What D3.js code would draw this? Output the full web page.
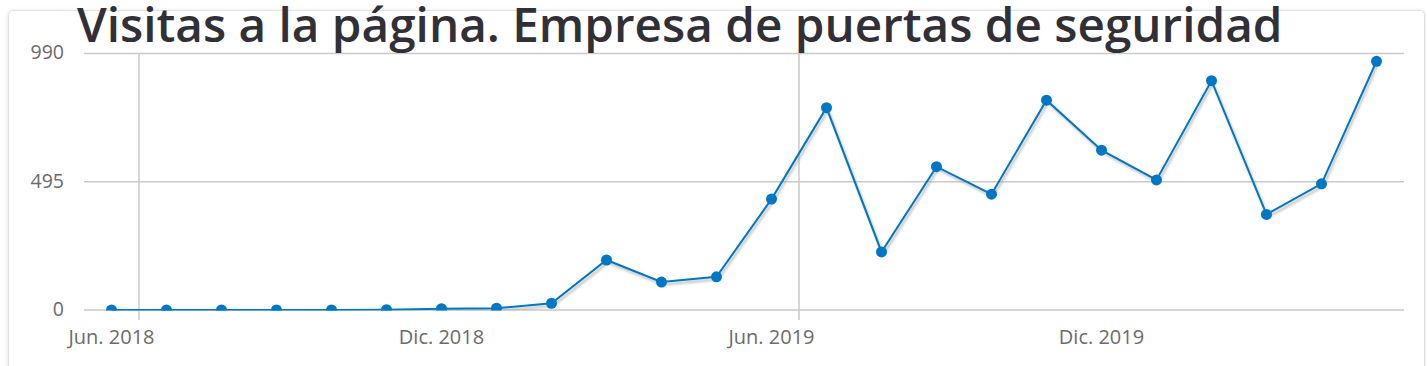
<!DOCTYPE html>
<html><head><meta charset="utf-8">
<script src="https://cdn.jsdelivr.net/npm/d3@7"></script>
<style>
html,body{margin:0;padding:0;background:#fff;}
svg{display:block;font-family:"Open Sans",sans-serif;}
</style></head>
<body>
<svg id="c" width="1427" height="366"></svg>
<script>
const title = "Visitas a la página. Empresa de puertas de seguridad";
const categories = ["Jun. 2018","Jul. 2018","Ago. 2018","Sep. 2018","Oct. 2018","Nov. 2018","Dic. 2018",
  "Ene. 2019","Feb. 2019","Mar. 2019","Abr. 2019","May. 2019","Jun. 2019","Jul. 2019","Ago. 2019",
  "Sep. 2019","Oct. 2019","Nov. 2019","Dic. 2019","Ene. 2020","Feb. 2020","Mar. 2020","Abr. 2020","May. 2020"];
const visits = [0,0,0,0,0,1,5,7,26,193,108,128,428,781,224,553,447,810,617,502,885,369,487,960];
const yTicks = [0,495,990];
const labelStep = 6;
const gridStep = 12;

(function(){
const svg = d3.select("#c");
const defs = svg.append("defs");
const f = defs.append("filter").attr("id","sh").attr("x","-10%").attr("y","-10%").attr("width","120%").attr("height","120%");
f.append("feGaussianBlur").attr("stdDeviation",1.2);
const cf = defs.append("filter").attr("id","cardsh").attr("x","-5%").attr("y","-5%").attr("width","110%").attr("height","120%");
cf.append("feDropShadow").attr("dx",0).attr("dy",1).attr("stdDeviation",2).attr("flood-color","#000").attr("flood-opacity",0.12);

// card
svg.append("rect").attr("x",8.5).attr("y",10.5).attr("width",1416).attr("height",400).attr("rx",4)
  .attr("fill","#fff").attr("stroke","#e2e2e2").attr("filter","url(#cardsh)");

const pL = 84, pR = 1404, pT = 53.5, pB = 310;
const x = d3.scaleBand().domain(categories).range([pL,pR]).paddingInner(0).paddingOuter(0);
const y = d3.scaleLinear().domain([0,990]).range([pB,pT]);

const gridColor = "#cacaca";
svg.append("g").selectAll("line").data(yTicks).join("line")
  .attr("x1",pL).attr("x2",pR).attr("y1",d=>y(d)).attr("y2",d=>y(d))
  .attr("stroke",gridColor).attr("stroke-width",1.5);
const vIdx = categories.map((c,i)=>i).filter(i=>i%gridStep===1);
svg.append("g").selectAll("line").data(vIdx).join("line")
  .attr("x1",i=>x(categories[i])).attr("x2",i=>x(categories[i]))
  .attr("y1",pT).attr("y2",pB+10)
  .attr("stroke",gridColor).attr("stroke-width",1.5);

svg.append("g").selectAll("text").data(yTicks).join("text")
  .attr("x",64).attr("y",d=>y(d)).attr("dy","0.3em").attr("text-anchor","end")
  .attr("font-size",19.5).attr("fill","#6b6b6b").text(d=>d);
svg.append("g").selectAll("text").data(categories.filter((c,i)=>i%labelStep===0)).join("text")
  .attr("x",d=>x(d)+x.bandwidth()/2).attr("y",344).attr("text-anchor","middle")
  .attr("font-size",20).attr("fill","#6b6b6b").text(d=>d);

defs.append("clipPath").attr("id","plot").append("rect")
  .attr("x",pL-10).attr("y",pT-10).attr("width",pR-pL+20).attr("height",pB-pT+10.5);

const line = d3.line().x((d,i)=>x(categories[i])+x.bandwidth()/2).y(d=>y(d));
const pg = svg.append("g").attr("clip-path","url(#plot)");
pg.append("path").datum(visits).attr("d",line).attr("fill","none")
  .attr("stroke","#999").attr("stroke-opacity",0.55).attr("stroke-width",2.5)
  .attr("transform","translate(1.5,2.5)").attr("filter","url(#sh)");
pg.append("path").datum(visits).attr("d",line).attr("fill","none")
  .attr("stroke","#0077c4").attr("stroke-width",2);
pg.selectAll("circle").data(visits).join("circle")
  .attr("cx",(d,i)=>x(categories[i])+x.bandwidth()/2).attr("cy",d=>y(d)).attr("r",5.5)
  .attr("fill","#0077c4");

const t = svg.append("text").attr("x",77).attr("y",41.5).attr("font-size",42).attr("font-weight",600)
  .attr("fill","#303036").text(title);
const w = t.node().getComputedTextLength();
t.attr("font-size", 42*1206/w);
})();
</script>
</body></html>
